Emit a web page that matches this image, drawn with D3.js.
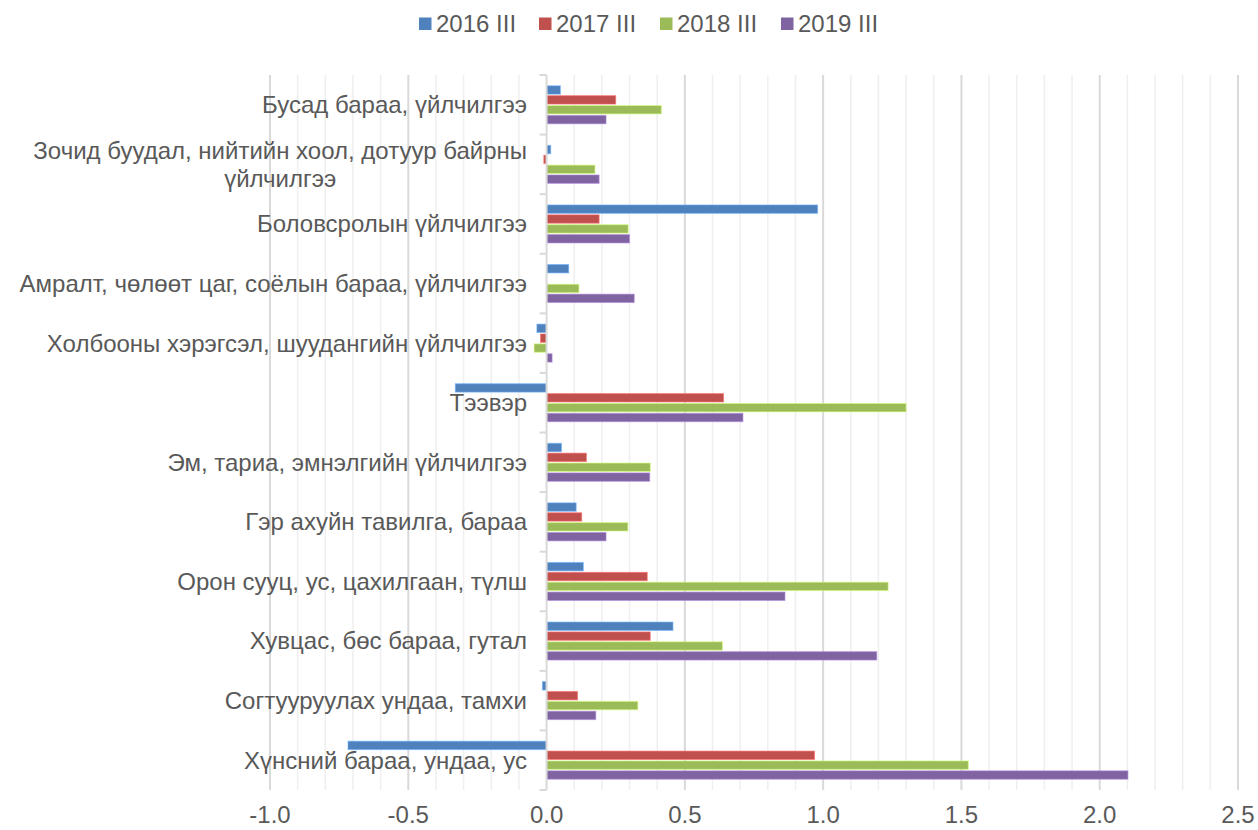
<!DOCTYPE html>
<html>
<head>
<meta charset="utf-8">
<script src="https://cdn.jsdelivr.net/npm/d3@7"></script>
<style>
  body { margin: 0; background: #fff; }
  text { font-family: "Liberation Sans", Arial, sans-serif; fill: #595959; }
</style>
</head>
<body>
<div id="chart"></div>
<script>
// categories, top to bottom as shown
const categories = [
    'Бусад бараа, үйлчилгээ',
    'Зочид буудал, нийтийн хоол, дотуур байрны үйлчилгээ',
    'Боловсролын үйлчилгээ',
    'Амралт, чөлөөт цаг, соёлын бараа, үйлчилгээ',
    'Холбооны хэрэгсэл, шуудангийн үйлчилгээ',
    'Тээвэр',
    'Эм, тариа, эмнэлгийн үйлчилгээ',
    'Гэр ахуйн тавилга, бараа',
    'Орон сууц, ус, цахилгаан, түлш',
    'Хувцас, бөс бараа, гутал',
    'Согтууруулах ундаа, тамхи',
    'Хүнсний бараа, ундаа, ус'
];

const seriesNames = ['2016 III', '2017 III', '2018 III', '2019 III'];
const seriesColors = ['#4f81bd', '#c0504d', '#9bbb59', '#8064a2'];

const values2016 = [0.05, 0.015, 0.98, 0.08, -0.035, -0.33, 0.054, 0.107, 0.133, 0.457, -0.015, -0.718];
const values2017 = [0.25, -0.01, 0.19, 0, -0.022, 0.64, 0.144, 0.127, 0.364, 0.375, 0.112, 0.969];
const values2018 = [0.415, 0.175, 0.295, 0.117, -0.045, 1.30, 0.375, 0.294, 1.235, 0.636, 0.33, 1.525];
const values2019 = [0.215, 0.19, 0.30, 0.317, 0.02, 0.71, 0.373, 0.215, 0.862, 1.194, 0.178, 2.102];

const xTicks = [-1.0, -0.5, 0.0, 0.5, 1.0, 1.5, 2.0, 2.5];
const xMinorTicks = d3.range(-10, 26).map(i => i / 10);

const seriesValues = [values2016, values2017, values2018, values2019];

const width = 1258, height = 830;
const plot = { left: 270, right: 1238, top: 75, bottom: 790 };

const svg = d3.select('#chart').append('svg')
    .attr('width', width)
    .attr('height', height);

const x = d3.scaleLinear().domain([-1, 2.5]).range([plot.left, plot.right]);

const y0 = d3.scaleBand()
    .domain(categories)
    .range([plot.top, plot.bottom])
    .paddingInner(0.362)
    .paddingOuter(0.181);

const y1 = d3.scaleBand()
    .domain(seriesNames)
    .range([0, y0.bandwidth()])
    .paddingInner(0.15);

// gridlines: minor every 0.1, major every 0.5
svg.append('g')
    .selectAll('line')
    .data(xMinorTicks.filter(t => Math.round(t * 10) % 5 !== 0))
    .enter().append('line')
    .attr('x1', d => x(d)).attr('x2', d => x(d))
    .attr('y1', plot.top).attr('y2', plot.bottom)
    .attr('stroke', '#efefef')
    .attr('stroke-width', 1.5);

svg.append('g')
    .selectAll('line')
    .data(xTicks.filter(t => t !== 0))
    .enter().append('line')
    .attr('x1', d => x(d)).attr('x2', d => x(d))
    .attr('y1', plot.top).attr('y2', plot.bottom)
    .attr('stroke', '#d9d9d9')
    .attr('stroke-width', 2);

// x tick labels (plain hyphen for negatives)
svg.append('g')
    .selectAll('text')
    .data(xTicks)
    .enter().append('text')
    .attr('x', d => x(d))
    .attr('y', 823)
    .attr('text-anchor', 'middle')
    .attr('font-size', 24)
    .text(d => d.toFixed(1));

// category labels, wrapped and centred within a right aligned block
const labelRight = 527;
const labels = svg.append('g');
categories.forEach(name => {
    const t = labels.append('text')
        .attr('font-size', 24)
        .attr('text-anchor', 'middle');
    const words = name.split(' ');
    let lines = [], line = [];
    const probe = t.append('tspan');
    words.forEach(w => {
        line.push(w);
        probe.text(line.join(' '));
        if (probe.node().getComputedTextLength() > 560 && line.length > 1) {
            line.pop();
            lines.push(line.join(' '));
            line = [w];
        }
    });
    lines.push(line.join(' '));
    probe.remove();

    const widths = lines.map(l => {
        const s = t.append('tspan').text(l);
        const w = s.node().getComputedTextLength();
        s.remove();
        return w;
    });
    const blockW = d3.max(widths);
    const cx = labelRight - blockW / 2;
    const cy = y0(name) + y0.bandwidth() / 2;
    const lh = 28;
    lines.forEach((l, i) => {
        t.append('tspan')
            .attr('x', cx)
            .attr('y', cy + (i - (lines.length - 1) / 2) * lh)
            .attr('dy', '0.35em')
            .text(l);
    });
});

// bars
const bars = svg.append('g');
seriesNames.forEach((s, si) => {
    const c = seriesColors[si];
    bars.append('g')
        .selectAll('rect')
        .data(seriesValues[si].map((v, i) => ({ cat: categories[i], v })))
        .enter().append('rect')
        .attr('x', d => x(Math.min(0, d.v)))
        .attr('y', d => y0(d.cat) + y1(s))
        .attr('width', d => Math.abs(x(d.v) - x(0)))
        .attr('height', y1.bandwidth())
        .attr('fill', c)
        .attr('stroke', d3.color(c).brighter(0.9))
        .attr('stroke-opacity', 0.6)
        .attr('stroke-width', d => d.v === 0 ? 0 : 1);
});

// zero axis with category ticks
const axis = svg.append('g');
axis.append('line')
    .attr('x1', x(0)).attr('x2', x(0))
    .attr('y1', plot.top).attr('y2', plot.bottom)
    .attr('stroke', '#d9d9d9')
    .attr('stroke-width', 2);
axis.selectAll('.tick')
    .data(d3.range(categories.length + 1))
    .enter().append('line')
    .attr('x1', x(0) - 7).attr('x2', x(0))
    .attr('y1', i => plot.top + i * y0.step())
    .attr('y2', i => plot.top + i * y0.step())
    .attr('stroke', '#d9d9d9')
    .attr('stroke-width', 2);

// legend
const legendX = [419, 539, 660, 781];
const legend = svg.append('g');
seriesNames.forEach((s, i) => {
    legend.append('rect')
        .attr('x', legendX[i]).attr('y', 17.5)
        .attr('width', 12.5).attr('height', 12.5)
        .attr('fill', seriesColors[i]);
    legend.append('text')
        .attr('x', legendX[i] + 17).attr('y', 32)
        .attr('font-size', 24)
        .text(s);
});
</script>
</body>
</html>
